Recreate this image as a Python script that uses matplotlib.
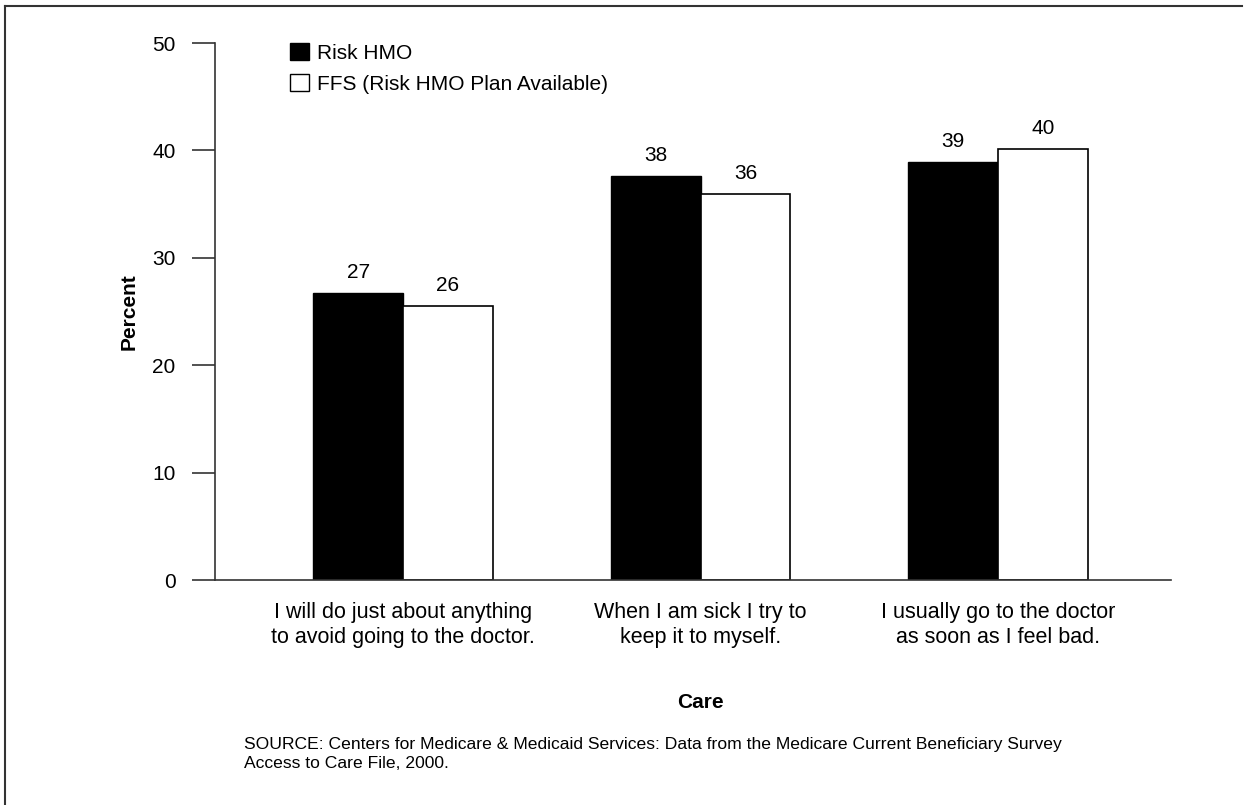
import matplotlib
matplotlib.use("Agg")
import matplotlib.pyplot as plt
import numpy as np
from matplotlib.patches import Patch

plt.rcParams['font.family'] = ['Liberation Sans', 'DejaVu Sans']

categories = ["I will do just about anything\nto avoid going to the doctor.",
              "When I am sick I try to\nkeep it to myself.",
              "I usually go to the doctor\nas soon as I feel bad."]
hmo = [26.7, 37.6, 38.9]
ffs = [25.5, 35.9, 40.1]
hmo_labels = ["27", "38", "39"]
ffs_labels = ["26", "36", "40"]
series_names = ["Risk HMO", "FFS (Risk HMO Plan Available)"]

fig = plt.figure(figsize=(12.51, 8.05), dpi=100)
ax = fig.add_axes([0.1719, 0.2795, 0.764, 0.667])

x = np.arange(len(categories))
w = 0.302
b1 = ax.bar(x - w / 2, hmo, w, color="black", edgecolor="black", linewidth=1)
b2 = ax.bar(x + w / 2, ffs, w, color="white", edgecolor="black", linewidth=1.2)

for bars, labs in ((b1, hmo_labels), (b2, ffs_labels)):
    for r, t in zip(bars, labs):
        ax.annotate(t, (r.get_x() + r.get_width() / 2, r.get_height()),
                    xytext=(0, 8), textcoords="offset points",
                    ha="center", va="bottom", fontsize=15)

ax.set_xlim(-0.632, 2.581)
ax.set_ylim(0, 50)
ax.set_yticks([0, 10, 20, 30, 40, 50])
ax.tick_params(axis="y", length=16.5, width=1.2, pad=12, labelsize=15, color="#333333")
ax.set_xticks(x)
ax.set_xticklabels(categories, fontsize=15.5, linespacing=1.25)
ax.tick_params(axis="x", length=0, pad=16)
for s in ("top", "right"):
    ax.spines[s].set_visible(False)
for s in ("left", "bottom"):
    ax.spines[s].set_linewidth(1.2)
    ax.spines[s].set_color("#333333")

ax.set_ylabel("Percent", fontsize=15, fontweight="bold")
ax.yaxis.set_label_coords(-0.08, 0.5)
fig.text(0.56, 1 - 702 / 805, "Care", ha="center", va="center", fontsize=15, fontweight="bold")

fig.text(244 / 1251, 1 - 754 / 805,
         "SOURCE: Centers for Medicare & Medicaid Services: Data from the Medicare Current Beneficiary Survey\n"
         "Access to Care File, 2000.",
         ha="left", va="center", fontsize=12.6, linespacing=1.3)

handles = [Patch(facecolor="black", edgecolor="black"),
           Patch(facecolor="white", edgecolor="black")]
ax.legend(handles, series_names, loc="upper left", bbox_to_anchor=(0.0695, 1.016),
          frameon=False, fontsize=15, handlelength=0.9, handleheight=0.9,
          handletextpad=0.4, labelspacing=0.55, borderaxespad=0)

# frame around figure (top and left edges)
fig.add_artist(plt.Line2D([5 / 1251, 1242 / 1251], [1 - 6 / 805, 1 - 6 / 805],
                          color="#333333", linewidth=1.5, transform=fig.transFigure))
fig.add_artist(plt.Line2D([5 / 1251, 5 / 1251], [0, 1 - 6 / 805],
                          color="#333333", linewidth=1.5, transform=fig.transFigure))

fig.savefig("out.png", dpi=100)
